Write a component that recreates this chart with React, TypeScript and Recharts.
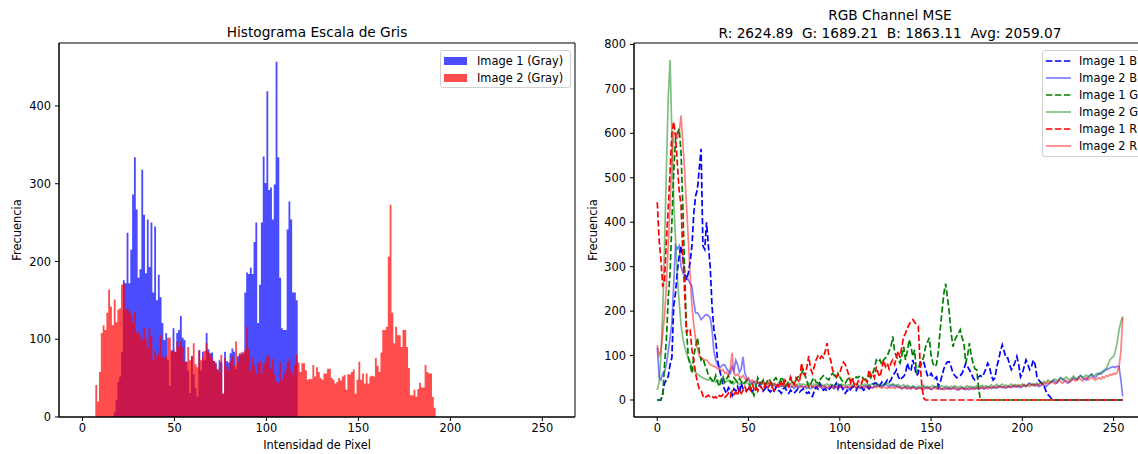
import { Area, AreaChart, Label, Legend, Line, LineChart, ReferenceArea, XAxis, YAxis } from "recharts";

const FONT = "'DejaVu Sans', sans-serif";
const TEXT = 11.4;

const intensityTicks = [0, 50, 100, 150, 200, 250];
const countTicks = [0, 100, 200, 300, 400];
const channelTicks = [0, 100, 200, 300, 400, 500, 600, 700, 800];

// gray histograms, one count per intensity bin, starting at the first non-empty bin
const gray1Start = 17;
const gray1Counts = [
  6, 22, 45, 52, 84, 176, 172, 237, 172, 215,
  286, 334, 267, 179, 190, 318, 260, 185, 254, 193,
  250, 160, 245, 150, 183, 154, 121, 99, 108, 73,
  40, 86, 114, 84, 108, 112, 130, 102, 99, 71,
  60, 31, 78, 55, 37, 26, 86, 60, 84, 73,
  108, 87, 82, 83, 72, 70, 60, 73, 70, 30,
  84, 72, 70, 82, 88, 84, 62, 78, 80, 83,
  81, 160, 186, 184, 192, 184, 225, 250, 121, 170,
  250, 335, 301, 419, 292, 295, 254, 299, 457, 334,
  179, 114, 112, 112, 241, 277, 254, 160, 160, 150,
];
const gray2Start = 7;
const gray2Counts = [
  41, 20, 58, 108, 118, 112, 134, 164, 142, 118,
  151, 122, 138, 140, 170, 172, 138, 140, 136, 132,
  122, 135, 108, 110, 105, 99, 114, 100, 89, 114,
  104, 73, 86, 78, 82, 105, 78, 76, 78, 102,
  102, 84, 86, 84, 97, 90, 97, 90, 71, 71,
  90, 73, 78, 95, 68, 64, 86, 73, 77, 85,
  95, 84, 80, 75, 72, 68, 62, 58, 80, 30,
  76, 65, 60, 72, 78, 66, 97, 70, 82, 80,
  84, 86, 116, 88, 60, 77, 66, 55, 70, 72,
  56, 68, 72, 80, 78, 62, 75, 55, 45, 44,
  70, 48, 55, 60, 70, 75, 60, 55, 67, 80,
  70, 58, 69, 69, 60, 48, 49, 49, 67, 52,
  64, 58, 50, 48, 56, 56, 62, 62, 50, 48,
  43, 45, 50, 47, 52, 54, 35, 55, 55, 58,
  61, 30, 48, 71, 48, 56, 43, 56, 43, 52,
  53, 52, 76, 66, 58, 83, 112, 112, 116, 206,
  273, 134, 95, 116, 105, 105, 90, 112, 112, 90,
  63, 28, 28, 35, 26, 36, 44, 38, 38, 67,
  58, 56, 56, 26, 12,
];

// channel histograms, intensity 0..255
const blue1 = [
  0, 0, 0, 15, 38, 45, 53, 80, 95, 211, 241, 290, 324, 347, 320, 286,
  270, 286, 310, 347, 420, 459, 474, 520, 565, 347, 339, 400, 347, 300, 211, 160,
  136, 90, 70, 53, 35, 22, 15, 28, 22, 10, 25, 20, 30, 15, 38, 25,
  20, 22, 25, 30, 18, 25, 30, 22, 35, 28, 20, 25, 30, 22, 18, 25,
  20, 28, 22, 20, 15, 25, 28, 20, 15, 22, 18, 15, 20, 25, 18, 22,
  25, 20, 15, 18, 10, 8, 20, 30, 25, 38, 30, 22, 25, 20, 23, 28,
  35, 30, 38, 25, 38, 30, 20, 15, 22, 18, 25, 30, 28, 22, 30, 25,
  28, 22, 25, 30, 25, 30, 35, 38, 38, 30, 33, 40, 33, 38, 45, 40,
  45, 55, 60, 68, 53, 45, 50, 53, 60, 83, 70, 65, 90, 75, 55, 60,
  85, 88, 85, 70, 55, 52, 60, 52, 48, 52, 30, 40, 55, 70, 80, 86,
  86, 75, 60, 55, 50, 52, 55, 60, 70, 83, 75, 68, 60, 50, 45, 48,
  52, 55, 52, 60, 70, 83, 75, 55, 45, 50, 75, 90, 110, 124, 110, 95,
  95, 80, 68, 75, 85, 98, 80, 52, 60, 75, 90, 80, 68, 75, 90, 80,
  52, 45, 40, 37, 30, 20, 12, 8, 3, 0, 0, 0, 0, 0, 0, 0,
  0, 0, 0, 0, 0, 0, 0, 0, 0, 0, 0, 0, 0, 0, 0, 0,
  0, 0, 0, 0, 0, 0, 0, 0, 0, 0, 0, 0, 0, 0, 0, 0,
];
const blue2 = [
  118, 53, 45, 60, 63, 80, 110, 140, 173, 260, 347, 340, 347, 300, 286, 280,
  279, 270, 262, 256, 220, 196, 196, 190, 181, 185, 190, 192, 190, 185, 158, 110,
  90, 80, 72, 75, 79, 79, 70, 65, 60, 75, 65, 90, 80, 62, 70, 97,
  60, 50, 45, 40, 38, 42, 35, 40, 38, 36, 42, 35, 30, 32, 35, 30,
  33, 30, 28, 32, 30, 35, 28, 30, 33, 28, 30, 26, 30, 28, 32, 30,
  28, 30, 26, 28, 25, 30, 28, 26, 30, 32, 28, 25, 30, 28, 26, 30,
  28, 25, 30, 32, 28, 30, 26, 28, 30, 25, 28, 30, 32, 28, 30, 26,
  30, 28, 32, 30, 34, 30, 28, 32, 30, 35, 32, 30, 34, 36, 32, 30,
  32, 35, 30, 33, 28, 30, 26, 28, 30, 25, 28, 26, 30, 28, 25, 27,
  28, 25, 30, 27, 26, 28, 24, 26, 30, 28, 25, 27, 24, 26, 28, 25,
  27, 24, 26, 28, 25, 22, 26, 28, 24, 27, 25, 23, 26, 28, 25, 27,
  24, 26, 28, 25, 27, 30, 28, 26, 28, 30, 27, 29, 31, 28, 30, 27,
  29, 31, 28, 30, 32, 29, 31, 28, 30, 33, 30, 35, 38, 34, 36, 32,
  34, 30, 32, 35, 33, 30, 34, 38, 42, 45, 40, 38, 45, 50, 48, 44,
  40, 38, 42, 45, 50, 48, 45, 52, 55, 50, 48, 45, 50, 55, 58, 52,
  50, 55, 60, 58, 62, 65, 68, 70, 72, 74, 75, 73, 76, 75, 45, 8,
];
const green1 = [
  0, 0, 0, 10, 80, 136, 230, 286, 400, 513, 587, 600, 610, 560, 437, 286,
  160, 95, 80, 60, 100, 120, 140, 110, 90, 95, 80, 70, 55, 50, 45, 40,
  55, 40, 30, 45, 52, 40, 48, 55, 42, 38, 50, 45, 40, 48, 42, 35,
  40, 45, 38, 30, 20, 10, 25, 50, 42, 38, 45, 35, 40, 48, 42, 36,
  45, 50, 42, 38, 52, 45, 30, 35, 42, 48, 40, 38, 45, 52, 52, 60,
  68, 55, 42, 30, 35, 45, 50, 40, 38, 45, 50, 55, 52, 48, 45, 55,
  60, 55, 48, 60, 52, 45, 40, 38, 45, 50, 42, 48, 45, 52, 50, 55,
  52, 48, 45, 52, 55, 50, 60, 72, 90, 85, 90, 80, 90, 95, 98, 110,
  120, 143, 110, 98, 90, 83, 100, 120, 90, 110, 136, 120, 98, 113, 60, 75,
  75, 85, 98, 120, 130, 140, 100, 83, 75, 80, 110, 158, 200, 240, 262, 230,
  196, 150, 120, 135, 143, 150, 158, 140, 128, 83, 100, 128, 100, 83, 70, 68,
  30, 0, 0, 0, 0, 0, 0, 0, 0, 0, 0, 0, 0, 0, 0, 0,
  0, 0, 0, 0, 0, 0, 0, 0, 0, 0, 0, 0, 0, 0, 0, 0,
  0, 0, 0, 0, 0, 0, 0, 0, 0, 0, 0, 0, 0, 0, 0, 0,
  0, 0, 0, 0, 0, 0, 0, 0, 0, 0, 0, 0, 0, 0, 0, 0,
  0, 0, 0, 0, 0, 0, 0, 0, 0, 0, 0, 0, 0, 0, 0, 0,
];
const green2 = [
  22, 40, 100, 200, 350, 520, 680, 765, 600, 450, 360, 280, 220, 170, 140, 120,
  105, 95, 85, 75, 68, 62, 58, 55, 52, 50, 48, 46, 45, 48, 42, 44,
  40, 45, 42, 38, 44, 40, 42, 45, 38, 40, 36, 42, 38, 35, 40, 38,
  36, 40, 38, 35, 38, 34, 36, 40, 38, 35, 37, 34, 36, 38, 35, 33,
  36, 34, 32, 35, 38, 34, 36, 33, 35, 38, 36, 34, 32, 35, 37, 34,
  36, 33, 35, 38, 34, 32, 36, 35, 33, 37, 35, 32, 34, 36, 33, 35,
  34, 32, 35, 37, 34, 36, 33, 35, 32, 34, 36, 33, 35, 37, 34, 32,
  35, 33, 36, 34, 32, 35, 37, 34, 36, 33, 35, 32, 34, 36, 38, 35,
  33, 36, 34, 32, 35, 30, 32, 34, 30, 33, 31, 29, 32, 30, 28, 31,
  30, 28, 32, 29, 31, 28, 30, 33, 29, 31, 28, 30, 32, 29, 31, 30,
  28, 31, 29, 32, 30, 28, 31, 29, 27, 30, 32, 29, 31, 28, 30, 32,
  29, 31, 33, 30, 32, 29, 31, 34, 30, 32, 35, 31, 33, 36, 32, 34,
  31, 33, 36, 32, 35, 33, 30, 34, 36, 33, 31, 35, 37, 34, 32, 36,
  38, 35, 40, 37, 42, 38, 45, 42, 40, 44, 47, 43, 46, 50, 45, 48,
  52, 48, 45, 50, 54, 50, 47, 52, 55, 50, 53, 56, 52, 55, 58, 54,
  56, 60, 58, 62, 65, 68, 72, 80, 90, 95, 98, 110, 130, 158, 175, 188,
];
const red1 = [
  445, 361, 316, 255, 270, 361, 430, 513, 600, 626, 595, 530, 470, 440, 330, 242,
  151, 160, 158, 113, 90, 60, 40, 25, 22, 10, 4, 8, 11, 6, 8, 5,
  7, 3, 10, 8, 12, 6, 10, 15, 8, 20, 12, 18, 10, 25, 15, 22,
  30, 20, 28, 22, 35, 25, 30, 20, 32, 28, 22, 35, 25, 30, 38, 28,
  22, 30, 35, 28, 40, 32, 45, 38, 30, 52, 42, 35, 50, 45, 40, 83,
  60, 55, 75, 99, 70, 60, 75, 90, 99, 92, 99, 95, 110, 128, 100, 90,
  68, 60, 52, 55, 60, 75, 85, 80, 68, 55, 38, 45, 35, 30, 42, 45,
  38, 50, 45, 40, 68, 55, 60, 50, 75, 60, 52, 70, 90, 75, 83, 70,
  83, 90, 80, 97, 110, 95, 120, 143, 150, 162, 170, 177, 181, 175, 170, 166,
  83, 30, 4, 0, 0, 0, 0, 0, 0, 0, 0, 0, 0, 0, 0, 0,
  0, 0, 0, 0, 0, 0, 0, 0, 0, 0, 0, 0, 0, 0, 0, 0,
  0, 0, 0, 0, 0, 0, 0, 0, 0, 0, 0, 0, 0, 0, 0, 0,
  0, 0, 0, 0, 0, 0, 0, 0, 0, 0, 0, 0, 0, 0, 0, 0,
  0, 0, 0, 0, 0, 0, 0, 0, 0, 0, 0, 0, 0, 0, 0, 0,
  0, 0, 0, 0, 0, 0, 0, 0, 0, 0, 0, 0, 0, 0, 0, 0,
  0, 0, 0, 0, 0, 0, 0, 0, 0, 0, 0, 0, 0, 0, 0, 0,
];
const red2 = [
  124, 100, 110, 150, 190, 260, 350, 437, 540, 603, 600, 590, 600, 640, 580, 513,
  440, 361, 280, 211, 170, 136, 115, 100, 95, 92, 90, 90, 85, 80, 78, 75,
  75, 70, 72, 65, 68, 60, 62, 55, 70, 106, 60, 55, 58, 52, 50, 55,
  48, 45, 50, 42, 45, 40, 42, 38, 40, 36, 42, 38, 35, 40, 36, 34,
  38, 35, 32, 36, 34, 30, 33, 35, 31, 34, 30, 32, 35, 30, 28, 32,
  30, 28, 32, 30, 34, 28, 31, 29, 33, 30, 28, 32, 30, 27, 31, 29,
  28, 31, 29, 27, 30, 32, 28, 30, 27, 29, 31, 28, 30, 26, 29, 31,
  28, 30, 27, 29, 31, 28, 26, 30, 28, 31, 29, 27, 30, 28, 26, 29,
  27, 29, 26, 28, 30, 27, 25, 28, 26, 29, 27, 25, 28, 26, 24, 27,
  25, 27, 24, 26, 28, 25, 23, 26, 28, 25, 27, 24, 26, 23, 25, 27,
  24, 26, 28, 25, 23, 26, 24, 27, 25, 23, 26, 28, 25, 24, 26, 28,
  25, 27, 29, 26, 28, 25, 27, 30, 28, 26, 29, 31, 28, 30, 27, 29,
  31, 28, 30, 33, 29, 31, 34, 30, 32, 35, 31, 33, 30, 34, 36, 32,
  35, 33, 37, 34, 38, 36, 40, 37, 42, 39, 36, 40, 44, 41, 38, 42,
  45, 42, 40, 44, 47, 43, 46, 50, 46, 43, 47, 50, 45, 48, 52, 47,
  45, 48, 50, 47, 52, 50, 55, 53, 58, 56, 60, 58, 62, 75, 110, 185,
];

const graySeries = [
  { key: "img1", name: "Image 1 (Gray)", color: "blue" },
  { key: "img2", name: "Image 2 (Gray)", color: "red" },
];

const channelSeries = [
  { key: "b1", name: "Image 1 B", color: "#0000ff", dashed: true },
  { key: "b2", name: "Image 2 B", color: "#0000ff", dashed: false },
  { key: "g1", name: "Image 1 G", color: "#008000", dashed: true },
  { key: "g2", name: "Image 2 G", color: "#008000", dashed: false },
  { key: "r1", name: "Image 1 R", color: "#ff0000", dashed: true },
  { key: "r2", name: "Image 2 R", color: "#ff0000", dashed: false },
];

const histRows = Array.from({ length: 257 }, (_, x) => ({
  x,
  img1: gray1Counts[x - gray1Start] ?? 0,
  img2: gray2Counts[x - gray2Start] ?? 0,
}));

const channelRows = Array.from({ length: 256 }, (_, x) => ({
  x,
  b1: blue1[x],
  b2: blue2[x],
  g1: green1[x],
  g2: green2[x],
  r1: red1[x],
  r2: red2[x],
}));

const X_DOMAIN: [number, number] = [-12.75, 267.75];
const GRAY_Y: [number, number] = [0, 481];
const CHANNEL_Y: [number, number] = [-38.25, 803.25];
const tickStyle = { fill: "#000", fontSize: TEXT, fontFamily: FONT };
const DASH = "6.3 2.7";

const legendBox = {
  background: "rgba(255,255,255,0.8)",
  border: "1px solid #d0d0d0",
  borderRadius: 3,
  boxSizing: "border-box" as const,
  fontFamily: FONT,
  fontSize: TEXT,
  color: "#000",
  whiteSpace: "nowrap" as const,
};

function GrayLegend() {
  return (
    <div style={{ ...legendBox, width: 131, padding: "1px 3px" }}>
      {graySeries.map((s) => (
        <div key={s.key} style={{ display: "flex", alignItems: "center", height: 17 }}>
          <span style={{ width: 23, height: 8, background: s.color, opacity: 0.7, marginRight: 10 }} />
          {s.name}
        </div>
      ))}
    </div>
  );
}

function ChannelLegend() {
  return (
    <div style={{ ...legendBox, width: 100, padding: "1.5px 3px" }}>
      {channelSeries.map((s) => (
        <div key={s.key} style={{ display: "flex", alignItems: "center", height: 17 }}>
          <svg width={25} height={8} style={{ marginRight: 8 }}>
            <line
              x1={0}
              y1={4}
              x2={25}
              y2={4}
              stroke={s.color}
              strokeOpacity={s.dashed ? 1 : 0.5}
              strokeWidth={1.7}
              strokeDasharray={s.dashed ? DASH : undefined}
            />
          </svg>
          {s.name}
        </div>
      ))}
    </div>
  );
}

function GrayHistogram() {
  return (
    <AreaChart width={600} height={454} data={histRows} margin={{ top: 43, right: 25, bottom: 3, left: 9 }}>
      <XAxis
        dataKey="x"
        type="number"
        domain={X_DOMAIN}
        ticks={intensityTicks}
        interval={0}
        allowDataOverflow
        height={34}
        tickSize={4}
        tickMargin={3}
        tick={tickStyle}
        stroke="#000"
      >
        <Label value="Intensidad de Pixel" position="insideBottom" offset={2} fill="#000" fontSize={TEXT} fontFamily={FONT} />
      </XAxis>
      <YAxis
        type="number"
        domain={GRAY_Y}
        ticks={countTicks}
        interval={0}
        allowDataOverflow
        width={50}
        tickSize={4}
        tickMargin={4}
        tick={tickStyle}
        stroke="#000"
      >
        <Label
          value="Frecuencia"
          angle={-90}
          position="insideLeft"
          offset={8}
          fill="#000"
          fontSize={TEXT}
          fontFamily={FONT}
          style={{ textAnchor: "middle" }}
        />
      </YAxis>
      {graySeries.map((s) => (
        <Area
          key={s.key}
          type="stepAfter"
          dataKey={s.key}
          fill={s.color}
          fillOpacity={0.7}
          stroke="none"
          isAnimationActive={false}
        />
      ))}
      <ReferenceArea
        x1={X_DOMAIN[0]}
        x2={X_DOMAIN[1]}
        y1={GRAY_Y[0]}
        y2={GRAY_Y[1]}
        fill="none"
        stroke="#000"
        strokeWidth={1}
        ifOverflow="visible"
      />
      <Legend
        layout="horizontal"
        verticalAlign="middle"
        align="center"
        wrapperStyle={{ left: 440, top: 50, width: 131 }}
        content={() => <GrayLegend />}
      />
    </AreaChart>
  );
}

function ChannelLines() {
  return (
    <LineChart width={596} height={454} data={channelRows} margin={{ top: 43, right: 25, bottom: 3, left: 9 }}>
      <XAxis
        dataKey="x"
        type="number"
        domain={X_DOMAIN}
        ticks={intensityTicks}
        interval={0}
        allowDataOverflow
        height={34}
        tickSize={4}
        tickMargin={3}
        tick={tickStyle}
        stroke="#000"
      >
        <Label value="Intensidad de Pixel" position="insideBottom" offset={2} fill="#000" fontSize={TEXT} fontFamily={FONT} />
      </XAxis>
      <YAxis
        type="number"
        domain={CHANNEL_Y}
        ticks={channelTicks}
        interval={0}
        allowDataOverflow
        width={50}
        tickSize={4}
        tickMargin={4}
        tick={tickStyle}
        stroke="#000"
      >
        <Label
          value="Frecuencia"
          angle={-90}
          position="insideLeft"
          offset={9}
          fill="#000"
          fontSize={TEXT}
          fontFamily={FONT}
          style={{ textAnchor: "middle" }}
        />
      </YAxis>
      {channelSeries.map((s) => (
        <Line
          key={s.key}
          type="linear"
          dataKey={s.key}
          stroke={s.color}
          strokeOpacity={s.dashed ? 1 : 0.5}
          strokeWidth={1.7}
          strokeDasharray={s.dashed ? DASH : undefined}
          dot={false}
          activeDot={false}
          isAnimationActive={false}
        />
      ))}
      <ReferenceArea
        x1={X_DOMAIN[0]}
        x2={X_DOMAIN[1]}
        y1={CHANNEL_Y[0]}
        y2={CHANNEL_Y[1]}
        fill="none"
        stroke="#000"
        strokeWidth={1}
        ifOverflow="visible"
      />
      <Legend
        layout="horizontal"
        verticalAlign="middle"
        align="center"
        wrapperStyle={{ left: 467, top: 50, width: 100 }}
        content={() => <ChannelLegend />}
      />
    </LineChart>
  );
}

const titleStyle = {
  position: "absolute" as const,
  textAlign: "center" as const,
  fontFamily: FONT,
  fontSize: 13.7,
  color: "#000",
  whiteSpace: "nowrap" as const,
};

export default function App() {
  return (
    <div style={{ position: "absolute", left: 0, top: 0, width: 1138, height: 454, overflow: "hidden", background: "#fff" }}>
      <div style={{ position: "absolute", left: 0, top: 0 }}>
        <GrayHistogram />
      </div>
      <div style={{ position: "absolute", left: 575, top: 0 }}>
        <ChannelLines />
      </div>
      <div style={{ ...titleStyle, left: 59, top: 24, width: 516, lineHeight: "16px" }}>Histograma Escala de Gris</div>
      <div style={{ ...titleStyle, left: 634, top: 6, width: 512, lineHeight: "18px" }}>
        RGB Channel MSE
        <br />
        R: 2624.89&nbsp;&nbsp;G: 1689.21&nbsp;&nbsp;B: 1863.11&nbsp;&nbsp;Avg: 2059.07
      </div>
    </div>
  );
}
